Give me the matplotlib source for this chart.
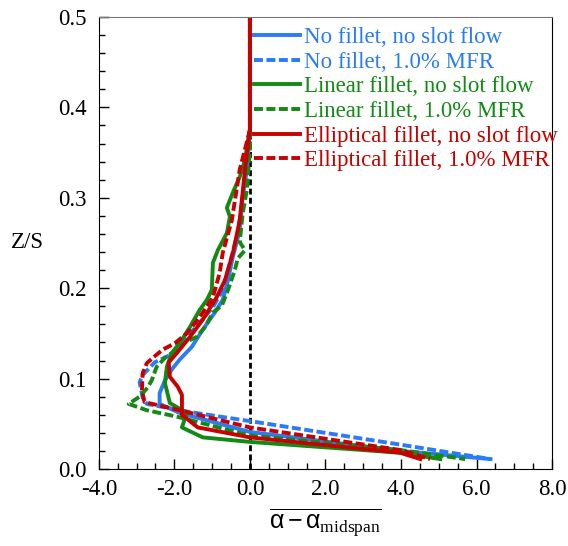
import numpy as np
import matplotlib
matplotlib.use('Agg')
from matplotlib import pyplot as plt
from matplotlib.ticker import MultipleLocator, FormatStrFormatter

plt.rcParams['font.family'] = ['Liberation Serif', 'DejaVu Serif']
plt.rcParams['mathtext.fontset'] = 'custom'
plt.rcParams['mathtext.rm'] = 'Liberation Serif'
plt.rcParams['mathtext.sf'] = 'Liberation Sans'
plt.rcParams['mathtext.it'] = 'Liberation Serif:italic'

# data: (alpha - alpha_midspan, Z/S)
blue_solid_x = [0, 0, -0.08, -0.19, -0.27, -0.45, -0.58, -0.72, -0.93, -1.25, -1.54, -1.86, -2.07, -2.25, -2.39, -2.39, -1.86, 0, 3.98, 6.37]
blue_solid_y = [0.5, 0.375, 0.331, 0.301, 0.264, 0.235, 0.209, 0.187, 0.173, 0.154, 0.135, 0.121, 0.110, 0.098, 0.084, 0.072, 0.062, 0.041, 0.020, 0.011]

blue_dash_x = [0, 0, -0.08, -0.19, -0.32, -0.53, -0.72, -0.98, -1.33, -1.72, -2.12, -2.52, -2.84, -2.92, -2.84, -2.73, -1.59, 0, 3.98, 6.37]
blue_dash_y = [0.5, 0.375, 0.331, 0.301, 0.261, 0.228, 0.198, 0.179, 0.162, 0.143, 0.126, 0.118, 0.104, 0.096, 0.079, 0.072, 0.063, 0.053, 0.027, 0.011]

green_solid_x = [0, 0, -0.05, -0.13, -0.27, -0.45, -0.61, -0.53, -0.61, -0.85, -0.98, -1.01, -1.14, -1.33, -1.59, -1.80, -2.07, -2.20, -2.25, -2.12, -1.67, -1.80, -1.25, 0, 3.98, 5.04]
green_solid_y = [0.5, 0.375, 0.364, 0.342, 0.323, 0.306, 0.289, 0.279, 0.261, 0.242, 0.228, 0.198, 0.187, 0.176, 0.157, 0.143, 0.128, 0.113, 0.095, 0.073, 0.062, 0.046, 0.035, 0.030, 0.018, 0.011]

green_dash_x = [0, 0, 0, -0.08, -0.19, -0.27, -0.13, -0.32, -0.40, -0.58, -0.74, -0.98, -1.19, -1.41, -1.78, -2.04, -2.25, -2.47, -2.60, -2.71, -2.92, -3.21, -2.73, -1.94, 0, 3.98, 5.70]
green_dash_y = [0.5, 0.375, 0.353, 0.309, 0.283, 0.251, 0.242, 0.233, 0.220, 0.198, 0.181, 0.173, 0.157, 0.146, 0.139, 0.129, 0.123, 0.113, 0.098, 0.090, 0.080, 0.072, 0.065, 0.058, 0.037, 0.021, 0.011]

red_solid_x = [0, 0, -0.13, -0.27, -0.45, -0.66, -0.88, -1.25, -1.59, -1.94, -2.15, -2.12, -1.91, -1.80, -1.80, -1.38, 0, 3.98, 4.51]
red_solid_y = [0.5, 0.375, 0.331, 0.275, 0.239, 0.209, 0.190, 0.165, 0.146, 0.128, 0.118, 0.102, 0.091, 0.082, 0.060, 0.046, 0.035, 0.018, 0.011]

red_dash_x = [0, 0, -0.27, -0.48, -0.72, -0.80, -0.98, -1.33, -1.67, -1.99, -2.31, -2.57, -2.73, -2.84, -2.86, -2.79, -1.86, 0, 3.98, 4.77]
red_dash_y = [0.5, 0.375, 0.331, 0.275, 0.239, 0.217, 0.190, 0.168, 0.150, 0.139, 0.132, 0.123, 0.117, 0.106, 0.087, 0.074, 0.065, 0.046, 0.021, 0.011]

labels = ['No fillet, no slot flow', 'No fillet, 1.0% MFR',
          'Linear fillet, no slot flow', 'Linear fillet, 1.0% MFR',
          'Elliptical fillet, no slot flow', 'Elliptical fillet, 1.0% MFR']

blue = '#2a7bf6'
green = '#138a13'
red = '#c80000'

fig = plt.figure(figsize=(5.68, 5.46), dpi=100)
ax = fig.add_axes([0.174, 0.141, 0.798, 0.828])

ax.plot([0, 0], [0, 0.5], color='black', lw=2, dashes=(2.1, 1.2), zorder=1)

series = [(blue_solid_x, blue_solid_y, blue, '-'),
          (blue_dash_x, blue_dash_y, blue, '--'),
          (green_solid_x, green_solid_y, green, '-'),
          (green_dash_x, green_dash_y, green, '--'),
          (red_solid_x, red_solid_y, red, '-'),
          (red_dash_x, red_dash_y, red, '--')]
for (xs, ys, c, ls), lab in zip(series, labels):
    if ls == '--':
        ax.plot(xs, ys, color=c, lw=2.8, dashes=(2.3, 0.9), label=lab, zorder=2)
    else:
        ax.plot(xs, ys, color=c, lw=2.8, label=lab, zorder=2)

ax.set_xlim(-4, 8)
ax.set_ylim(0, 0.5)
ax.xaxis.set_major_locator(MultipleLocator(2))
ax.xaxis.set_minor_locator(MultipleLocator(0.5))
ax.yaxis.set_major_locator(MultipleLocator(0.1))
ax.yaxis.set_minor_locator(MultipleLocator(0.02))
ax.xaxis.set_major_formatter(FormatStrFormatter('%.1f'))
ax.yaxis.set_major_formatter(FormatStrFormatter('%.1f'))
ax.tick_params(which='both', direction='in', labelsize=16.5)
ax.tick_params(which='major', length=7, width=1)
ax.tick_params(which='minor', length=4, width=1)
ax.tick_params(axis='y', pad=9)
ax.tick_params(axis='x', pad=7)
ax.spines['top'].set_color('#777777')

ax.set_ylabel('Z/S', fontsize=16.5, rotation=0, labelpad=22, va='center')
ax.set_xlabel(r'$\overline{\mathsf{\alpha - \alpha}_{\mathrm{midspan}}}$', fontsize=18, labelpad=5)

leg = ax.legend(loc='upper left', bbox_to_anchor=(0.343, 0.978), frameon=False,
                fontsize=16.5, handlelength=2.0, handletextpad=0.15, labelspacing=0.16,
                borderpad=0, borderaxespad=0)
for txt, (xs, ys, c, ls) in zip(leg.get_texts(), series):
    txt.set_color(c)

fig.savefig('out.png', dpi=100)
